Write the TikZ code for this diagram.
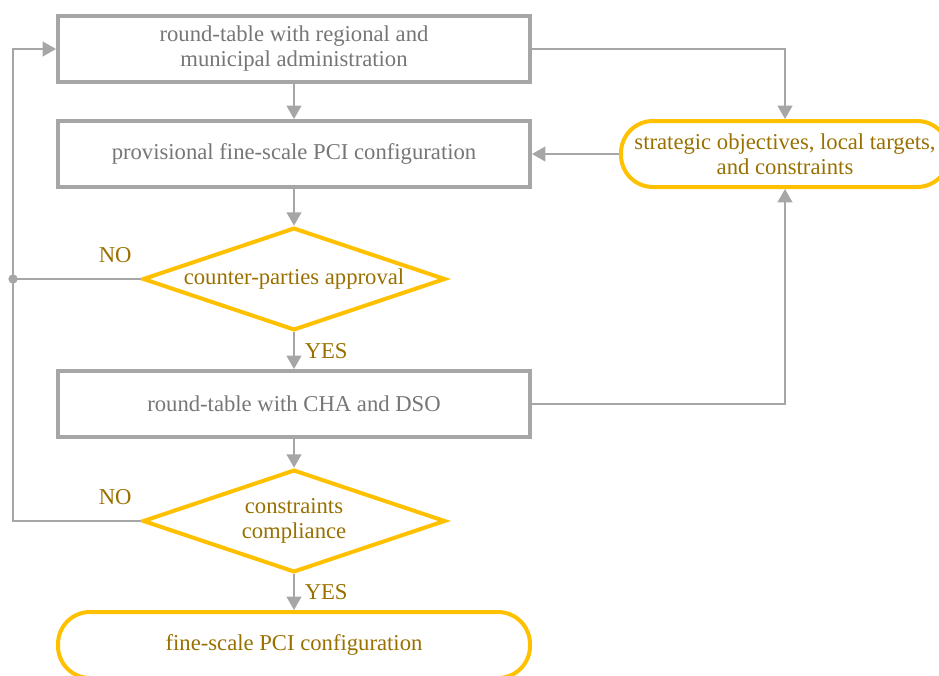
\documentclass[tikz,border=0pt]{standalone}
\usepackage{fontspec}
\setmainfont{Liberation Serif}
\usetikzlibrary{shapes.geometric,arrows.meta}
\definecolor{linegray}{RGB}{166,166,166}
\definecolor{textgray}{RGB}{118,118,118}
\definecolor{gold}{RGB}{255,192,0}
\definecolor{darkgold}{RGB}{153,112,0}
\tikzset{
  every node/.style={font=\fontsize{17pt}{18.75pt}\selectfont},
  procbox/.style={draw=linegray,line width=3pt,text=textgray,align=center,
    minimum width=354pt,minimum height=49.5pt,inner sep=0pt},
  termbox/.style={draw=gold,line width=3pt,text=darkgold,align=center,
    rounded corners=24pt,minimum width=354pt,minimum height=49.5pt,inner sep=0pt},
  decision/.style={draw=gold,line width=3pt,text=darkgold,align=center,diamond,
    aspect=2.94,minimum width=227pt,minimum height=77pt,inner sep=0pt},
  conn/.style={draw=linegray,line width=1.5pt,-{Triangle[length=10pt,width=11pt]}},
  plain/.style={draw=linegray,line width=1.5pt},
  answer/.style={text=darkgold}
}
\begin{document}
\begin{tikzpicture}[x=0.75pt,y=-0.75pt]
\useasboundingbox (0,0) rectangle (939,675);
% boxes
\node[procbox] (rtadmin) at (294,49) {round-table with regional and\\municipal administration};
\node[procbox] (provconf) at (294,154) {provisional fine-scale PCI configuration};
\node[decision] (approval) at (294,279) {counter-parties approval};
\node[procbox] (rtcha) at (294,404) {round-table with CHA and DSO};
\node[decision] (compliance) at (294,521) {constraints\\compliance};
\node[termbox] (finalconf) at (294,645) {fine-scale PCI configuration};
\node[termbox,minimum width=246pt] (objectives) at (785,154) {strategic objectives, local targets,\\and constraints};
\coordinate (junction) at (13,279);
\coordinate (loopcorner) at (13,521);
% main flow
\draw[conn] (rtadmin) -- (provconf);
\draw[conn] (provconf) -- (approval);
\draw[conn] (approval) -- node[answer,right=4pt] (yesone) {YES} (rtcha);
\draw[conn] (rtcha) -- (compliance);
\draw[conn] (compliance) -- node[answer,right=4pt] (yestwo) {YES} (finalconf);
% side links
\draw[conn] (rtadmin.east) -| (objectives.north);
\draw[conn] (objectives.west) -- (provconf.east);
\draw[conn] (rtcha.east) -| (objectives.south);
% loops back
\draw[plain] (approval.west) -- node[answer,pos=0.2,above=8pt] (noone) {NO} (junction);
\fill[linegray] (junction) circle (3.5pt);
\draw[conn] (compliance.west) -- node[answer,pos=0.2,above=8pt] (notwo) {NO} (loopcorner) |- (rtadmin.west);
\end{tikzpicture}
\end{document}
